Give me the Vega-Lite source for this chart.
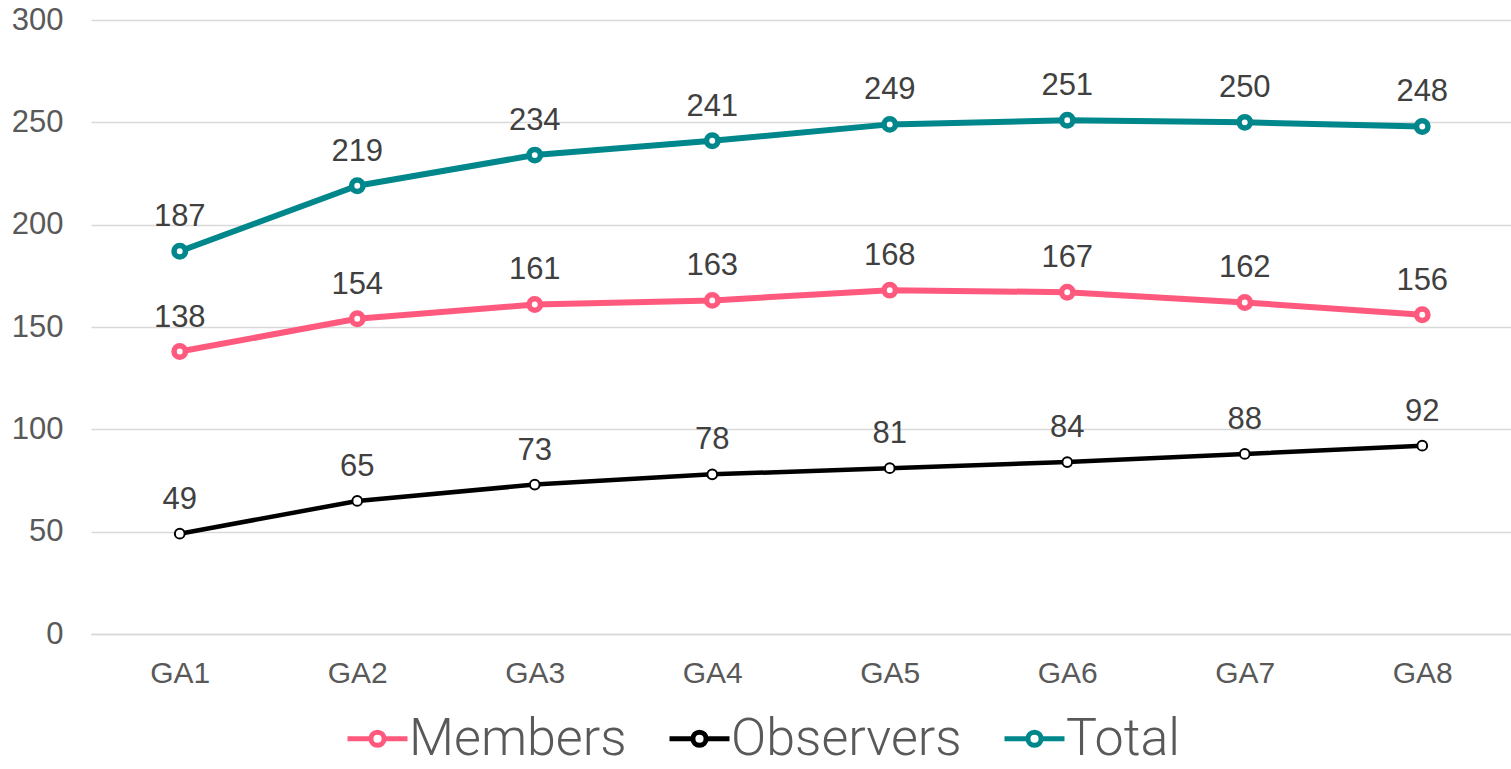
{
  "$schema": "https://vega.github.io/schema/vega-lite/v6.json",
  "width": 1420,
  "height": 614,
  "autosize": {"type": "none"},
  "padding": {"left": 91, "top": 20, "right": 0, "bottom": 135},
  "background": "white",
  "data": {
    "values": [
      {"ga": "GA1", "series": "Members", "value": 138},
      {"ga": "GA2", "series": "Members", "value": 154},
      {"ga": "GA3", "series": "Members", "value": 161},
      {"ga": "GA4", "series": "Members", "value": 163},
      {"ga": "GA5", "series": "Members", "value": 168},
      {"ga": "GA6", "series": "Members", "value": 167},
      {"ga": "GA7", "series": "Members", "value": 162},
      {"ga": "GA8", "series": "Members", "value": 156},
      {"ga": "GA1", "series": "Observers", "value": 49},
      {"ga": "GA2", "series": "Observers", "value": 65},
      {"ga": "GA3", "series": "Observers", "value": 73},
      {"ga": "GA4", "series": "Observers", "value": 78},
      {"ga": "GA5", "series": "Observers", "value": 81},
      {"ga": "GA6", "series": "Observers", "value": 84},
      {"ga": "GA7", "series": "Observers", "value": 88},
      {"ga": "GA8", "series": "Observers", "value": 92},
      {"ga": "GA1", "series": "Total", "value": 187},
      {"ga": "GA2", "series": "Total", "value": 219},
      {"ga": "GA3", "series": "Total", "value": 234},
      {"ga": "GA4", "series": "Total", "value": 241},
      {"ga": "GA5", "series": "Total", "value": 249},
      {"ga": "GA6", "series": "Total", "value": 251},
      {"ga": "GA7", "series": "Total", "value": 250},
      {"ga": "GA8", "series": "Total", "value": 248}
    ]
  },
  "encoding": {
    "x": {
      "field": "ga", "type": "ordinal",
      "scale": {"type": "point", "padding": 0.5},
      "axis": {
        "title": null, "labelAngle": 0, "ticks": false, "grid": false,
        "domain": true, "domainColor": "#D9D9D9", "domainWidth": 1.5,
        "labelFont": "Liberation Sans", "labelFontSize": 30, "labelColor": "#595959",
        "labelPadding": 24
      }
    },
    "y": {
      "field": "value", "type": "quantitative",
      "scale": {"domain": [0, 300], "nice": false},
      "axis": {
        "title": null, "values": [0, 50, 100, 150, 200, 250, 300],
        "ticks": false, "domain": false, "grid": true, "labelOverlap": false,
        "gridColor": "#D9D9D9", "gridWidth": 1.5,
        "labelFont": "Liberation Sans", "labelFontSize": 31, "labelColor": "#595959",
        "labelPadding": 28
      }
    }
  },
  "layer": [
    {
      "transform": [{"filter": "datum.series === 'Members'"}],
      "mark": {"type": "line", "strokeWidth": 6, "strokeCap": "round", "strokeJoin": "round"},
      "encoding": {"color": {"field": "series", "type": "nominal"}}
    },
    {
      "transform": [{"filter": "datum.series === 'Observers'"}],
      "mark": {"type": "line", "strokeWidth": 4.5, "strokeCap": "round", "strokeJoin": "round"},
      "encoding": {"color": {"field": "series", "type": "nominal"}}
    },
    {
      "transform": [{"filter": "datum.series === 'Total'"}],
      "mark": {"type": "line", "strokeWidth": 6, "strokeCap": "round", "strokeJoin": "round"},
      "encoding": {"color": {"field": "series", "type": "nominal"}}
    },
    {
      "transform": [{"filter": "datum.series !== 'Observers'"}],
      "mark": {"type": "point", "shape": "circle", "filled": true, "fill": "white", "opacity": 1, "size": 130, "strokeWidth": 5.5},
      "encoding": {"stroke": {"field": "series", "type": "nominal", "scale": {"domain": ["Members", "Observers", "Total"], "range": ["#FF5A7E", "#000000", "#00878C"]}, "legend": null}}
    },
    {
      "transform": [{"filter": "datum.series === 'Observers'"}],
      "mark": {"type": "point", "shape": "circle", "filled": true, "fill": "white", "opacity": 1, "size": 95, "strokeWidth": 2, "stroke": "#000000"}
    },
    {
      "mark": {"type": "text", "dy": -34, "font": "Liberation Sans", "fontSize": 31, "color": "#404040", "baseline": "middle", "align": "center"},
      "encoding": {
        "text": {"field": "value", "type": "quantitative"}
      }
    }
  ],
  "resolve": {"scale": {"color": "shared"}},
  "config": {
    "view": {"stroke": null},
    "range": {"category": ["#FF5A7E", "#000000", "#00878C"]},
    "legend": {
      "title": null,
      "orient": "none",
      "direction": "horizontal",
      "legendX": 254,
      "legendY": 686,
      "symbolType": "M-1,0H-0.22M0.22,0H1M-0.22,0A0.22,0.22 0 1,0 0.22,0A0.22,0.22 0 1,0 -0.22,0Z",
      "symbolSize": 3600,
      "symbolFillColor": "white",
      "symbolStrokeWidth": 5,
      "labelFont": "Roboto",
      "labelFontWeight": 300,
      "labelFontSize": 52,
      "labelColor": "#595959",
      "labelLimit": 500,
      "labelOffset": -1,
      "columnPadding": 32
    }
  }
}
